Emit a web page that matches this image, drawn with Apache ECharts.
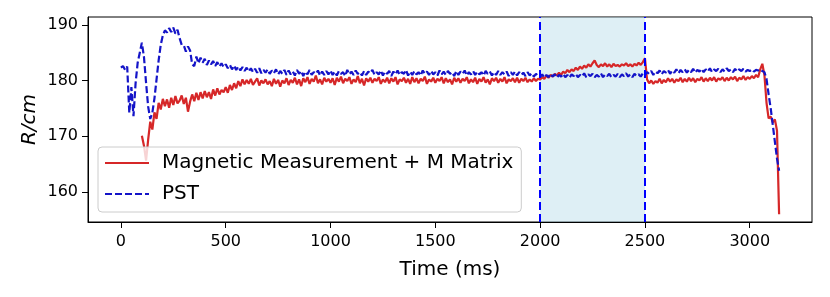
<!DOCTYPE html>
<html>
<head>
<meta charset="utf-8">
<script src="https://cdn.jsdelivr.net/npm/echarts@6/dist/echarts.min.js"></script>
<style>html,body{margin:0;padding:0;background:#fff;}#c{width:830px;height:297px;}</style>
</head>
<body>
<div id="c"></div>
<script>
// sampling grid (ms)
const pstStart = 0, magStart = 100, stepMs = 10;
// PST series (R/cm), one value every 10 ms from 0 ms
const pst = [
182.3,182.6,181.9,182.5,174.2,178.8,173.6,179.5,183.2,185.0,
186.8,184.2,179.6,175.3,173.1,174.2,176.8,180.2,183.6,186.4,
188.1,189.0,188.6,189.4,188.7,189.5,188.4,189.1,187.6,186.4,
186.3,185.2,186.1,185.4,182.9,182.6,184.3,183.1,184.1,183.2,
183.9,182.8,183.6,182.9,183.5,182.6,183.3,182.5,183.1,182.4,
182.9,182.2,182.8,182.0,182.7,181.9,182.5,181.8,182.4,181.7,
182.3,181.6,182.2,181.5,182.1,181.4,182.2,181.3,181.9,181.4,
182.0,181.2,181.8,181.3,182.0,181.1,181.7,181.2,181.9,181.0,
181.8,181.1,181.6,180.9,181.9,181.2,181.7,180.8,181.6,181.1,
181.9,181.0,181.5,181.2,181.8,180.9,181.6,181.0,181.7,181.1,
181.8,181.0,181.6,180.9,181.7,181.2,181.5,180.8,181.9,181.1,
181.6,181.0,181.8,181.2,181.5,180.9,181.7,181.0,181.6,181.3,
181.9,181.0,181.5,181.1,181.8,180.9,181.6,181.2,181.7,180.8,
181.6,181.1,181.8,181.0,181.5,181.2,181.9,180.9,181.6,181.0,
181.7,181.1,181.5,180.9,181.8,181.2,181.6,181.0,181.7,181.1,
181.5,180.9,181.8,181.1,181.6,181.0,181.7,181.2,181.5,180.8,
181.7,181.0,181.6,181.2,181.8,180.9,181.5,181.1,181.7,181.0,
181.6,181.1,181.5,180.9,181.7,181.2,181.6,180.9,181.5,181.0,
181.7,181.0,181.5,181.1,181.6,180.8,181.5,181.0,181.6,180.9,
181.5,181.0,181.4,180.8,181.5,180.9,181.3,180.7,181.2,180.8,
180.6,181.1,180.5,181.0,180.6,181.2,180.7,181.1,180.5,181.0,
180.7,181.2,180.6,181.0,180.5,181.1,180.8,181.2,180.6,181.0,
180.7,181.3,180.6,181.1,180.8,181.2,180.6,181.0,180.7,181.3,
180.6,181.1,180.8,181.2,180.6,181.0,180.7,181.2,180.6,181.1,
180.8,181.3,180.7,181.1,180.6,181.2,180.8,181.1,180.7,181.3,
180.9,181.5,181.2,181.7,181.0,181.6,181.3,181.8,181.1,181.7,
181.4,181.9,181.2,181.8,181.4,182.0,181.3,181.9,181.5,182.0,
181.4,181.9,181.5,182.1,181.4,181.9,181.6,182.1,181.5,182.0,
181.6,182.2,181.5,182.0,181.7,182.1,181.5,182.0,181.6,182.2,
181.7,182.0,181.5,182.1,181.6,182.0,181.7,182.1,181.6,181.9,
181.7,182.0,181.6,181.9,181.8,182.0,181.7,181.5,180.3,177.5,
175.0,172.0,169.0,166.0,163.8
];
// Magnetic Measurement + M Matrix (R/cm), one value every 10 ms from 100 ms
const mag = [
170.1,168.3,165.6,169.4,172.6,171.2,174.3,173.1,176.0,174.8,
176.7,175.4,176.6,175.1,176.9,175.6,177.2,175.9,176.4,177.3,
175.8,176.9,174.4,176.2,177.5,176.3,177.8,176.5,177.9,176.8,
178.1,177.0,177.9,176.7,178.4,177.3,178.6,177.5,178.3,177.9,
178.8,177.8,179.2,178.3,179.5,178.6,179.9,179.0,180.2,179.3,
180.1,179.4,180.3,179.2,179.8,180.4,179.1,180.0,179.5,180.2,
179.3,179.9,179.0,180.3,179.4,180.1,178.9,180.0,179.5,180.4,
179.2,180.1,179.6,180.5,179.3,180.2,179.0,180.4,179.7,180.6,
179.4,180.3,179.8,180.9,179.5,180.2,179.3,180.5,179.8,180.3,
179.6,180.4,179.2,180.5,179.8,180.7,179.5,180.3,179.9,180.6,
179.4,180.2,179.7,180.8,179.5,180.3,179.1,180.4,179.8,180.5,
179.6,180.3,179.9,180.6,179.4,180.2,179.7,180.5,179.5,180.4,
179.8,180.6,179.3,180.2,179.9,180.5,179.6,180.3,179.4,180.6,
179.7,180.4,179.5,180.3,179.9,180.7,179.4,180.2,179.8,180.5,
179.6,180.3,179.9,180.6,179.5,180.4,179.7,180.2,179.3,180.5,
179.8,180.4,179.6,180.3,179.9,180.6,179.5,180.2,179.7,180.5,
179.4,180.3,179.8,180.6,179.6,180.2,179.3,180.4,179.9,180.5,
179.6,180.3,179.8,180.6,179.5,180.2,179.9,180.4,179.7,180.5,
179.6,180.3,179.9,180.5,179.7,180.2,179.8,180.4,179.9,180.3,
180.2,180.6,180.3,180.9,180.5,181.0,180.7,181.2,180.9,181.4,
181.0,181.6,181.3,181.9,181.5,182.0,181.7,182.3,181.9,182.5,
182.1,182.7,182.3,182.9,182.5,183.1,183.6,182.8,182.4,182.9,
182.6,183.1,182.5,182.9,182.4,183.0,182.6,182.8,182.5,182.9,
182.7,183.1,182.6,182.9,182.5,183.0,182.7,183.2,182.8,183.3,
184.0,180.2,179.5,180.0,179.4,179.9,179.6,180.3,179.5,180.1,
179.7,180.4,179.8,180.3,179.6,180.2,179.9,180.5,179.7,180.3,
179.8,180.5,179.9,180.4,179.7,180.3,180.0,180.6,179.8,180.4,
179.9,180.5,180.0,180.6,179.8,180.4,180.1,180.6,179.9,180.5,
180.0,180.6,180.2,180.7,179.9,180.5,180.2,180.8,180.1,180.6,
180.3,180.8,180.4,181.0,180.6,182.0,183.0,181.0,176.0,173.2,
173.5,172.5,173.0,171.0,156.0
];
const xTicks = [0, 500, 1000, 1500, 2000, 2500, 3000];
const yTicks = [160, 170, 180, 190];
const spanStart = 2000, spanEnd = 2500;
const xRange = [-157, 3297];
const yRange = [154.6, 191.4];

const toPairs = (start, vals) => vals.map((v, i) => [start + i * stepMs, v]);
const font = 'DejaVu Sans';
const chart = echarts.init(document.getElementById('c'), null, {renderer: 'canvas'});
chart.setOption({
  animation: false,
  backgroundColor: '#ffffff',
  grid: {left: 88, right: 18, top: 17, bottom: 75, show: true, borderColor: '#000', borderWidth: 1, backgroundColor: 'transparent'},
  legend: {
    orient: 'vertical', left: 98, top: 147,
    padding: [4, 8, 6, 6],
    backgroundColor: 'rgba(255,255,255,0.8)', borderColor: '#cccccc', borderWidth: 1, borderRadius: 4,
    itemWidth: 44, itemHeight: 14, itemGap: 7,
    itemStyle: {opacity: 0},
    textStyle: {fontFamily: font, fontSize: 20, color: '#000', lineHeight: 24, padding: [0, 0, 0, 8]},
    data: ['Magnetic Measurement + M Matrix', 'PST']
  },
  xAxis: {
    type: 'value', min: xRange[0], max: xRange[1],
    name: 'Time (ms)', nameLocation: 'middle', nameGap: 38,
    nameTextStyle: {fontFamily: font, fontSize: 20, color: '#000'},
    axisLine: {show: true, onZero: false, lineStyle: {color: '#000', width: 1}}, splitLine: {show: false},
    axisTick: {show: true, customValues: xTicks, length: 6, lineStyle: {color: '#000', width: 1}},
    axisLabel: {customValues: xTicks, fontFamily: font, fontSize: 16, color: '#000', margin: 12, formatter: v => String(v)}
  },
  yAxis: {
    type: 'value', min: yRange[0], max: yRange[1],
    name: 'R/cm', nameLocation: 'middle', nameGap: 48, nameMoveOverlap: false,
    nameTextStyle: {fontFamily: font, fontSize: 20, color: '#000', fontStyle: 'italic'},
    axisLine: {show: true, onZero: false, lineStyle: {color: '#000', width: 1}}, splitLine: {show: false},
    axisTick: {show: true, customValues: yTicks, length: 6, lineStyle: {color: '#000', width: 1}},
    axisLabel: {customValues: yTicks, fontFamily: font, fontSize: 16, color: '#000', margin: 10, formatter: v => String(v)}
  },
  series: [
    {
      name: 'span', type: 'line', data: [], z: 1, silent: true,
      markArea: {silent: true, itemStyle: {color: 'rgba(173,216,230,0.4)'}, data: [[{xAxis: spanStart}, {xAxis: spanEnd}]]},
      markLine: {silent: true, symbol: 'none', label: {show: false},
        lineStyle: {color: '#0000ff', type: [8, 4], width: 2},
        data: [{xAxis: spanStart}, {xAxis: spanEnd}]}
    },
    {
      name: 'Magnetic Measurement + M Matrix', type: 'line', symbol: 'none', showSymbol: false, z: 3,
      data: toPairs(magStart, mag),
      itemStyle: {color: '#d62728'},
      lineStyle: {color: '#d62728', width: 2.2}
    },
    {
      name: 'PST', type: 'line', symbol: 'none', showSymbol: false, z: 4,
      data: toPairs(pstStart, pst),
      itemStyle: {color: '#1414c8'},
      lineStyle: {color: '#1414c8', width: 2.2, type: [7, 3]}
    }
  ]
});
</script>
</body>
</html>
